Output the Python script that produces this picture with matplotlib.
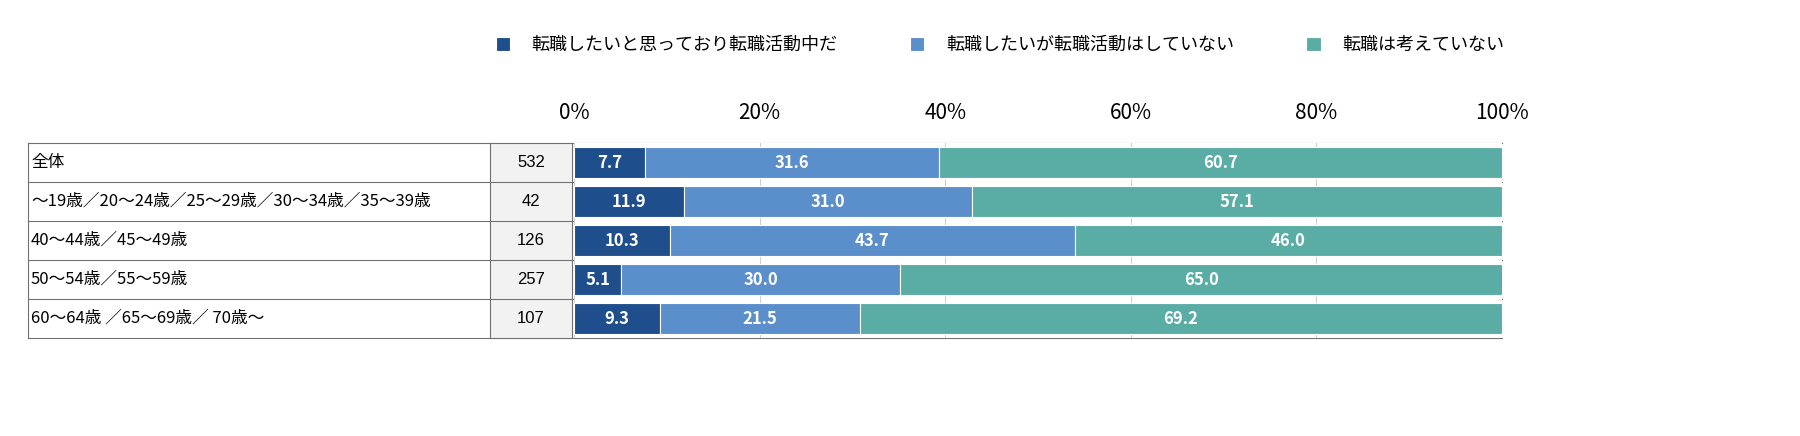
import matplotlib.pyplot as plt
import numpy as np

plt.rcParams['font.family'] = ['Noto Sans CJK JP', 'DejaVu Sans']

groups = ['全体', '～19歳／20～24歳／25～29歳／30～34歳／35～39歳', '40～44歳／45～49歳',
          '50～54歳／55～59歳', '60～64歳 ／65～69歳／ 70歳～']
counts = [532, 42, 126, 257, 107]
active = [7.7, 11.9, 10.3, 5.1, 9.3]
want = [31.6, 31.0, 43.7, 30.0, 21.5]
nochange = [60.7, 57.1, 46.0, 65.0, 69.2]
series_names = ['転職したいと思っており転職活動中だ', '転職したいが転職活動はしていない', '転職は考えていない']
colors = ['#1f4e8c', '#5b8fcc', '#5aada5']

W, H = 1800, 436
fig = plt.figure(figsize=(18, 4.36), dpi=100)

top, bot = 143, 338
ax = fig.add_axes([574 / W, 1 - bot / H, (1502 - 574) / W, (bot - top) / H])
y = np.arange(len(groups))
left = np.zeros(len(groups))
for vals, c, name in zip([active, want, nochange], colors, series_names):
    vals = np.array(vals)
    ax.barh(y, vals, left=left, color=c, height=0.78, edgecolor='white', linewidth=0.8, label=name)
    for yi, l, v in zip(y, left, vals):
        ax.text(l + v / 2, yi, f'{v:.1f}', ha='center', va='center', color='white',
                fontsize=12, fontweight='bold')
    left += vals
ax.set_xlim(0, 100)
ax.set_ylim(len(groups) - 0.5, -0.5)
ax.set_yticks([])
ax.set_xticks(np.arange(0, 101, 20))
ax.set_xticklabels([f'{t}%' for t in range(0, 101, 20)], fontsize=15)
ax.xaxis.tick_top()
ax.tick_params(axis='x', length=0, pad=14)
ax.grid(axis='x', color='#d0d0d0', linewidth=0.8)
ax.set_axisbelow(True)
for s in ax.spines.values():
    s.set_visible(False)

# table on the left
tab = fig.add_axes([0, 0, 1, 1], zorder=-1)
tab.set_xlim(0, W)
tab.set_ylim(H, 0)
tab.axis('off')
rowh = (bot - top) / len(groups)
tab.add_patch(plt.Rectangle((490, top), 82, bot - top, color='#f2f2f2', zorder=0))
for i in range(len(groups) + 1):
    tab.plot([28, 1502], [top + i * rowh] * 2, color='#707070', lw=0.8)
for xv in [28, 490, 572]:
    tab.plot([xv, xv], [top, bot], color='#707070', lw=0.8)
for i, (g, n) in enumerate(zip(groups, counts)):
    yc = top + (i + 0.5) * rowh
    tab.text(31, yc, g, va='center', ha='left', fontsize=12)
    tab.text(531, yc, str(n), va='center', ha='center', fontsize=12, family='Liberation Sans')

fig.legend(loc='center', bbox_to_anchor=(1000 / W, 1 - 45 / H), ncol=3, frameon=False,
           fontsize=13, handlelength=0.8, handleheight=0.8, columnspacing=4, handletextpad=1.2)

fig.savefig('out.png')
